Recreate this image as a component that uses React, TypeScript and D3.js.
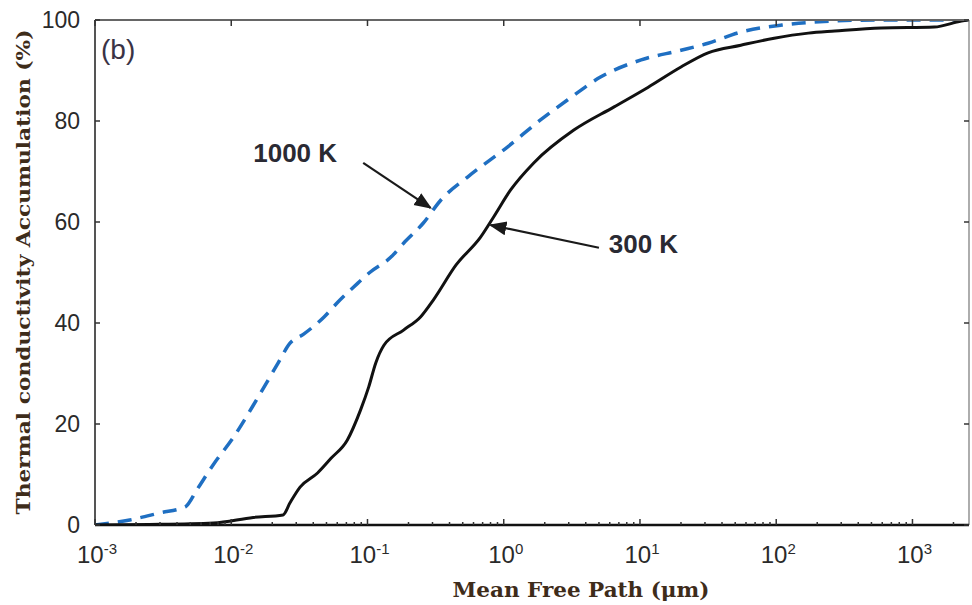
import React from 'react';
import * as d3 from 'd3';

// mean free path (um) and accumulated thermal conductivity (%)
const mfp300 = [0.001, 0.0025, 0.0074, 0.0145, 0.024, 0.027, 0.032, 0.043, 0.054, 0.071, 0.089, 0.102, 0.115, 0.132, 0.184, 0.245, 0.305, 0.447, 0.676, 0.843, 1.12, 1.66, 3.27, 6.46, 11.5, 20, 31.6, 55, 96.6, 172, 269, 589, 1445, 2290, 2600];
const acc300 = [0, 0.1, 0.4, 1.5, 2.0, 4.4, 7.5, 10.3, 13.2, 16.8, 22.8, 27.3, 32.1, 35.6, 38.6, 41.2, 44.6, 51.5, 57, 61, 66.3, 71.7, 78.2, 82.8, 86.7, 90.7, 93.5, 95, 96.4, 97.4, 97.8, 98.4, 98.6, 99.8, 100];

const mfp1000 = [0.001, 0.0018, 0.003, 0.0046, 0.0056, 0.0074, 0.0104, 0.0155, 0.022, 0.027, 0.034, 0.048, 0.06, 0.085, 0.105, 0.148, 0.184, 0.257, 0.347, 0.543, 1.07, 1.86, 2.95, 5.13, 10.2, 20, 31.6, 55, 110, 191, 562, 2600];
const acc1000 = [0, 1.0, 2.4, 3.6, 7, 12, 17.4, 25, 32, 36, 37.8, 41.2, 44, 47.9, 50.1, 53, 55.8, 59.8, 64.4, 68.9, 74.9, 80.2, 84.2, 88.7, 92.1, 94, 95.4, 97.6, 99, 99.6, 100, 100];

const xTickExps = [-3, -2, -1, 0, 1, 2, 3];
const yTicks = [0, 20, 40, 60, 80, 100];

// annotations: label, text anchor point, arrow tail and arrow tip (data coords)
const notes = [
  { label: '1000 K', text: [0.0145, 71.9], tail: [0.093, 71.7], tip: [0.29, 62.8] },
  { label: '300 K', text: [5.9, 53.9], tail: [5.0, 54.9], tip: [0.8, 59.4] },
];

const W = 972;
const H = 605;
const left = 95, right = 969, top = 20, bottom = 525;

export default function App() {
  const x = d3.scaleLog().domain([0.001, 2600]).range([left, right]);
  const y = d3.scaleLinear().domain([0, 100]).range([bottom, top]);

  const line = d3.line<[number, number]>()
    .x(d => x(d[0]))
    .y(d => y(d[1]))
    .curve(d3.curveMonotoneX);

  const pts300 = mfp300.map((m, i) => [m, acc300[i]] as [number, number]);
  const pts1000 = mfp1000.map((m, i) => [m, acc1000[i]] as [number, number]);

  // minor ticks 2..9 per decade
  const minor: number[] = [];
  for (let e = -3; e <= 3; e++) {
    for (let k = 2; k <= 9; k++) {
      const v = k * Math.pow(10, e);
      if (v < 2600) minor.push(v);
    }
  }

  const tickFont = "'Liberation Sans', Arial, sans-serif";
  const titleFont = "'DejaVu Serif', 'Liberation Serif', serif";
  const titleColor = '#3e2c1a';

  return (
    <svg width={W} height={H} style={{ position: 'absolute', left: 0, top: 0, background: '#fff' }}>
      <defs>
        <clipPath id="plot">
          <rect x={left} y={top} width={right - left} height={bottom - top} />
        </clipPath>
        <marker id="head" viewBox="0 0 10 10" refX="9" refY="5" markerWidth="8" markerHeight="8" orient="auto">
          <path d="M0,1 L10,5 L0,9 z" fill="#1a1a1a" />
        </marker>
      </defs>

      {/* curves */}
      <g clipPath="url(#plot)">
        <path d={line(pts1000) || ''} fill="none" stroke="#1f6fc2" strokeWidth={3.5} strokeDasharray="14 9" />
        <path d={line(pts300) || ''} fill="none" stroke="#111" strokeWidth={3} />
      </g>

      {/* frame */}
      <line x1={left} x2={right} y1={top} y2={top} stroke="#666" strokeWidth={2} />
      <line x1={right} x2={right} y1={top} y2={bottom} stroke="#777" strokeWidth={1.2} />
      <line x1={left} x2={left} y1={top} y2={bottom} stroke="#555" strokeWidth={2} />
      <line x1={left} x2={right} y1={bottom} y2={bottom} stroke="#111" strokeWidth={2.5} />

      {/* x ticks */}
      {minor.map(v => (
        <line key={'m' + v} x1={x(v)} x2={x(v)} y1={bottom} y2={bottom - 3} stroke="#333" strokeWidth={1.5} />
      ))}
      {xTickExps.map(e => {
        const px = x(Math.pow(10, e));
        return (
          <g key={'x' + e}>
            <line x1={px} x2={px} y1={bottom} y2={bottom - 6} stroke="#333" strokeWidth={1.5} />
            <line x1={px} x2={px} y1={top} y2={top + 6} stroke="#333" strokeWidth={1.5} />
            <text x={px + 2} y={563} textAnchor="middle" fontFamily={tickFont} fontSize={24} fill="#2a2a2a">
              10<tspan fontSize={15} dy={-9}>{e}</tspan>
            </text>
          </g>
        );
      })}

      {/* y ticks */}
      {yTicks.map(t => (
        <g key={'y' + t}>
          <line x1={left} x2={left + 5} y1={y(t)} y2={y(t)} stroke="#333" strokeWidth={1.5} />
          <line x1={right} x2={right - 5} y1={y(t)} y2={y(t)} stroke="#333" strokeWidth={1.5} />
          <text x={80} y={y(t) + 8} textAnchor="end" fontFamily={tickFont} fontSize={23} fill="#2a2a2a">{t}</text>
        </g>
      ))}

      {/* panel tag */}
      <text x={101} y={59} fontFamily={tickFont} fontSize={28} fill="#3a3345">(b)</text>

      {/* annotations */}
      {notes.map(n => (
        <g key={n.label}>
          <line x1={x(n.tail[0])} y1={y(n.tail[1])} x2={x(n.tip[0])} y2={y(n.tip[1])}
            stroke="#1a1a1a" strokeWidth={2.2} markerEnd="url(#head)" />
          <text x={x(n.text[0])} y={y(n.text[1])} fontFamily={tickFont} fontWeight="bold" fontSize={26} fill="#2a2a33">{n.label}</text>
        </g>
      ))}

      {/* axis titles */}
      <text x={581} y={597} textAnchor="middle" fontFamily={titleFont} fontWeight="bold" fontSize={20}
        textLength={257} lengthAdjust="spacingAndGlyphs" fill={titleColor}>Mean Free Path (μm)</text>
      <text transform="translate(30,272) rotate(-90)" textAnchor="middle" fontFamily={titleFont} fontWeight="bold" fontSize={19}
        textLength={485} lengthAdjust="spacingAndGlyphs" fill={titleColor}>Thermal conductivity Accumulation (%)</text>
    </svg>
  );
}
